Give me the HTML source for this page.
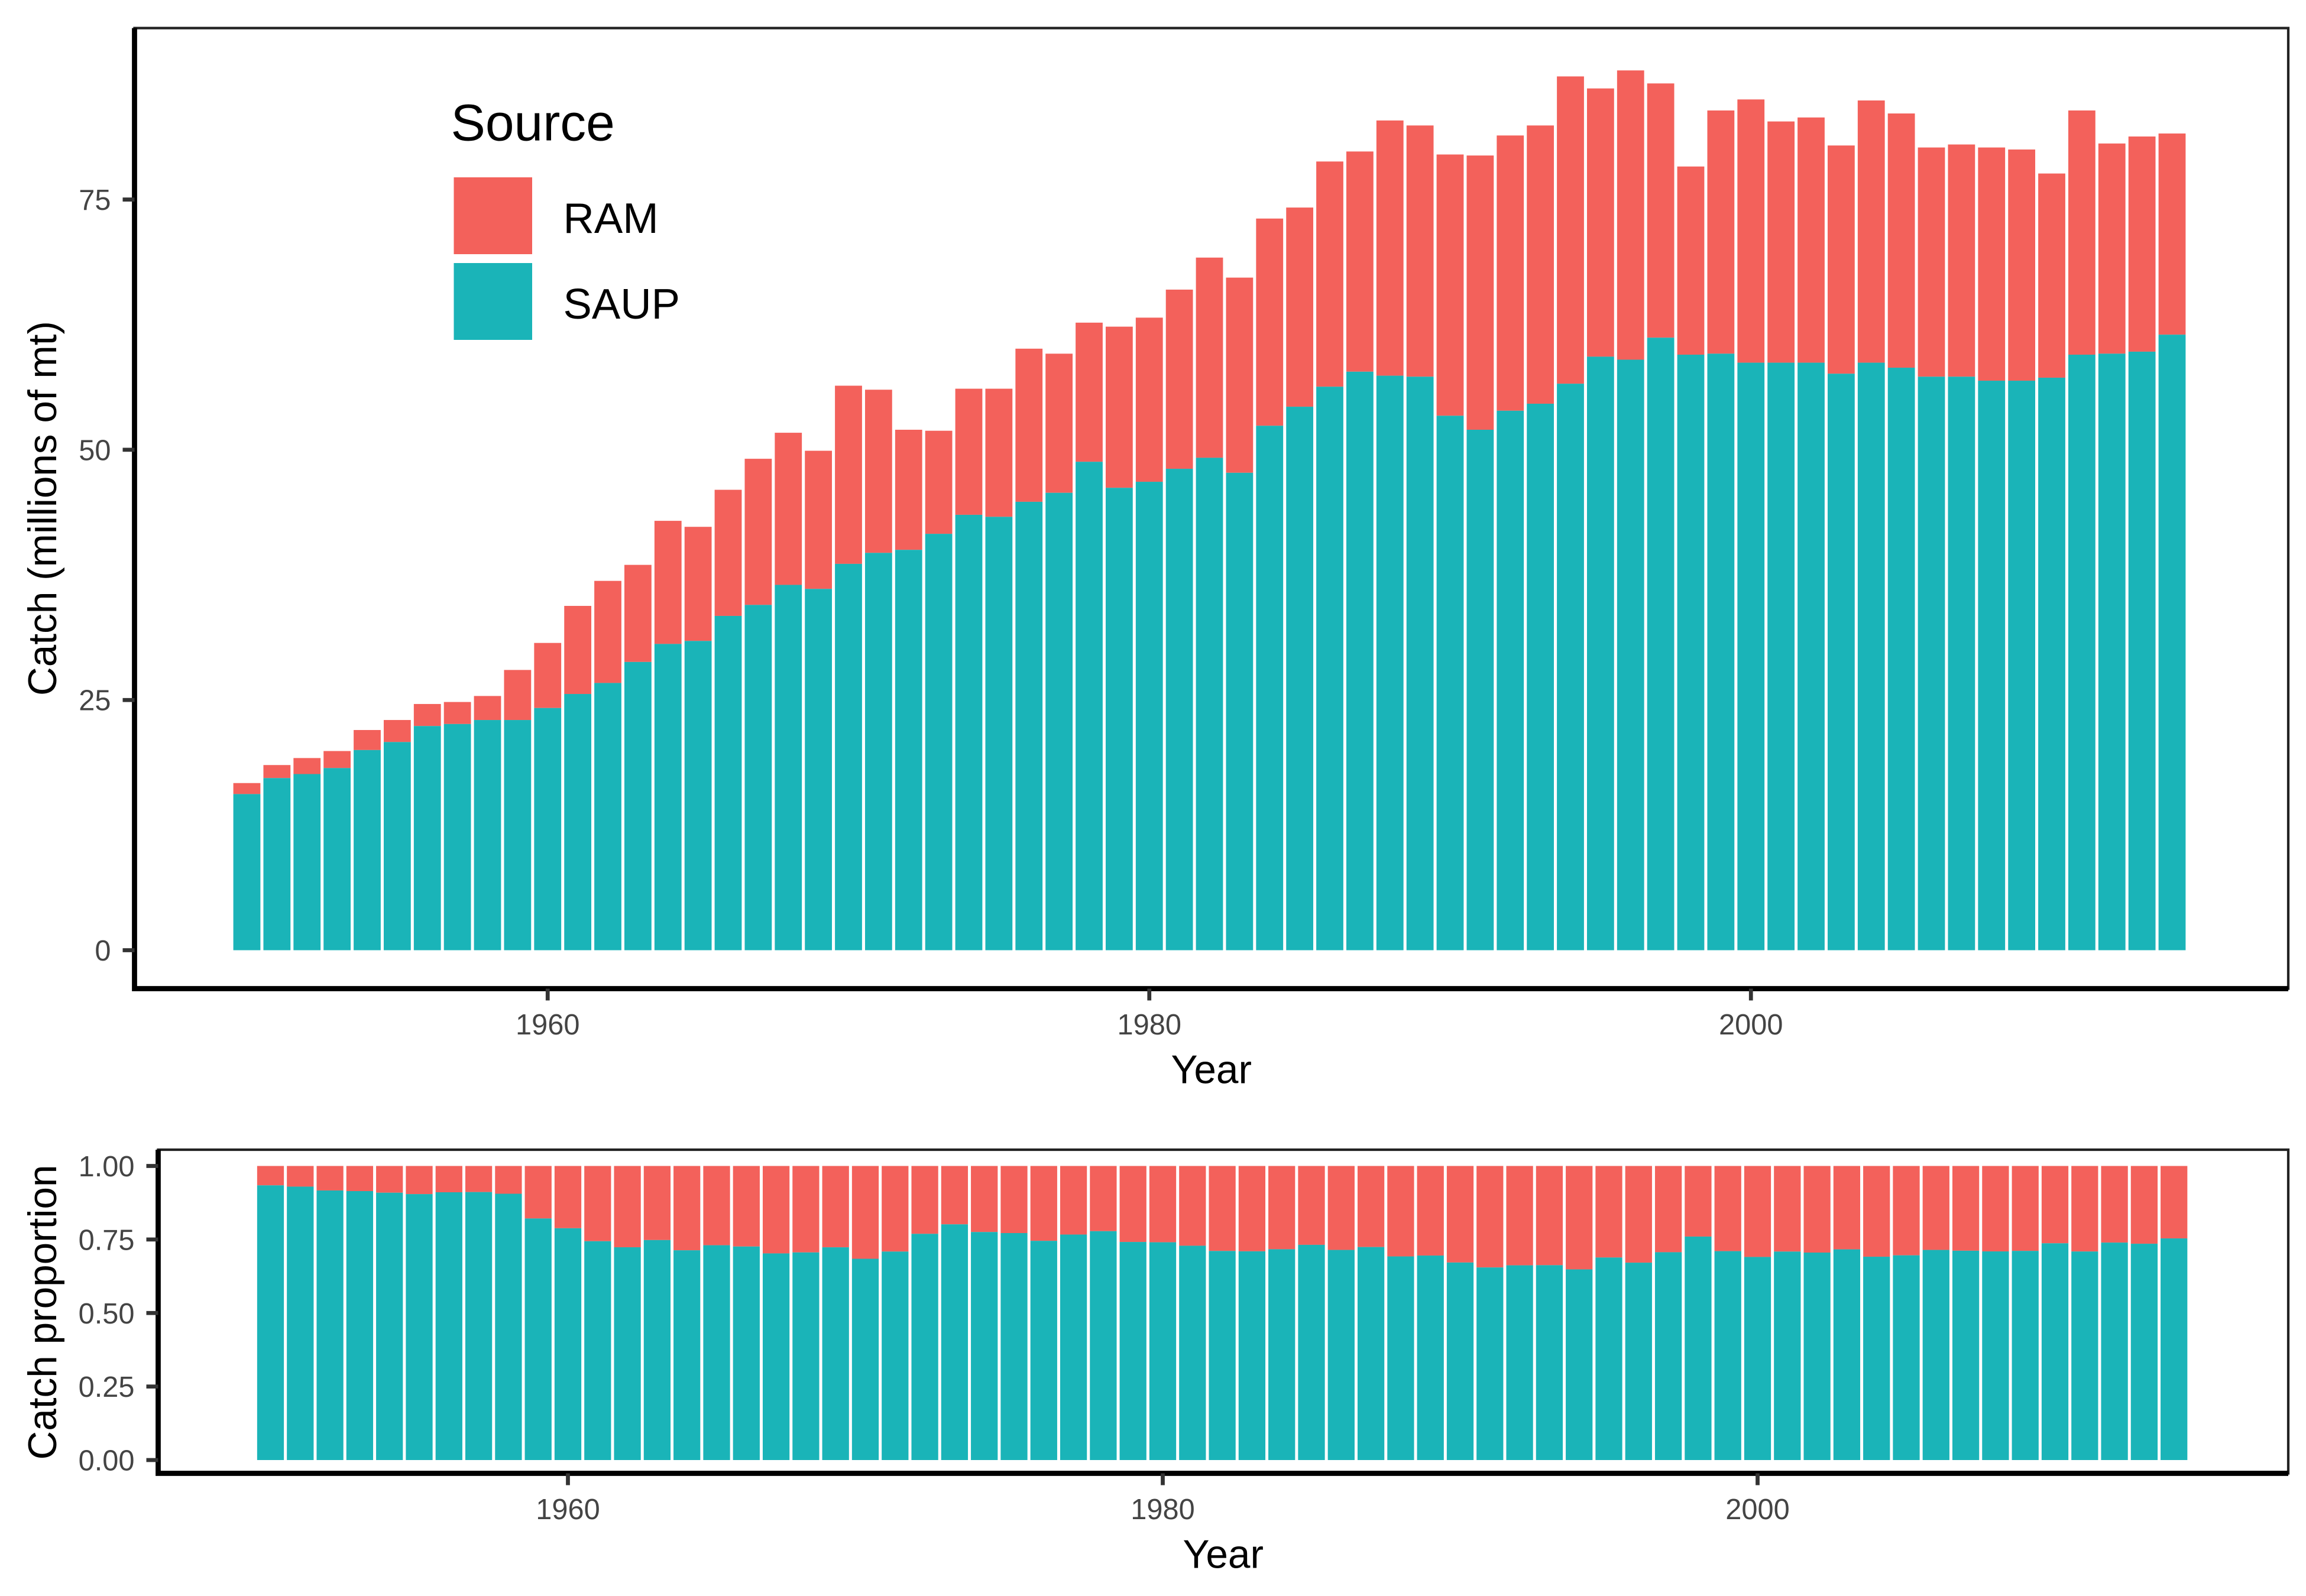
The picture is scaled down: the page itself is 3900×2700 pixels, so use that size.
<!DOCTYPE html>
<html><head><meta charset="utf-8"><style>
html,body{margin:0;padding:0;background:#fff}
svg{display:block;font-family:"Liberation Sans",Arial,sans-serif}
</style></head><body>
<svg id="chart" width="3900" height="2700" viewBox="0 0 1560 1080" xmlns="http://www.w3.org/2000/svg">
<g id="topg"></g>
<g id="botg"></g>
</svg>
<script>
const years = [];
for (let y = 1950; y <= 2014; y++) years.push(y);
const totalCatch = [16.7,18.5,19.2,19.9,22.0,23.0,24.6,24.8,25.4,28.0,30.7,34.4,36.9,38.5,42.9,42.3,46.0,49.1,51.7,49.9,56.4,56.0,52.0,51.9,56.1,56.1,60.1,59.6,62.7,62.3,63.2,66.0,69.2,67.2,73.1,74.2,78.8,79.8,82.9,82.4,79.5,79.4,81.4,82.4,87.3,86.1,87.9,86.6,78.3,83.9,85.0,82.8,83.2,80.4,84.9,83.6,80.2,80.5,80.2,80.0,77.6,83.9,80.6,81.3,81.6];
const saupCatch = [15.6,17.2,17.6,18.2,20.0,20.8,22.4,22.6,23.0,23.0,24.2,25.6,26.7,28.8,30.6,30.9,33.4,34.5,36.5,36.1,38.6,39.7,40.0,41.6,43.5,43.3,44.8,45.7,48.8,46.2,46.8,48.1,49.2,47.7,52.4,54.3,56.3,57.8,57.4,57.3,53.4,52.0,53.9,54.6,56.6,59.3,59.0,61.2,59.5,59.6,58.7,58.7,58.7,57.6,58.7,58.2,57.3,57.3,56.9,56.9,57.2,59.5,59.6,59.8,61.5];
const topYTicks = [0,25,50,75];
const botYTicks = [0,0.25,0.5,0.75,1.0];
const botYLabels = ["0.00","0.25","0.50","0.75","1.00"];
const xTicks = [1960,1980,2000];

const NS = "http://www.w3.org/2000/svg";
const RAM = "#F3615B", SAUP = "#1AB4B8";
function mk(parent, tag, attrs, text) {
  const e = document.createElementNS(NS, tag);
  for (const k in attrs) e.setAttribute(k, attrs[k]);
  if (text !== undefined) e.textContent = text;
  parent.appendChild(e);
  return e;
}
function panel(g, o) {
  const xs = y => o.x0 + (y - 1950) * o.dx;
  const ys = v => o.y0 - v * o.sy;
  const bw = o.dx * 0.9;
  const fr = mk(g, 'rect', {x:o.L, y:o.T, width:o.R-o.L, height:o.B-o.T, fill:'none', stroke:'#222', 'stroke-width':1.7});
  
  
  years.forEach((yr, i) => {
    const tot = o.total(i), s = o.saup(i);
    const r1 = mk(g, 'rect', {x:xs(yr)-bw/2, y:ys(tot), width:bw, height:ys(s)-ys(tot), fill:RAM});
    
    
    const r2 = mk(g, 'rect', {x:xs(yr)-bw/2, y:ys(s), width:bw, height:ys(0)-ys(s), fill:SAUP});
    
    
  });
  const ax = mk(g, 'path', {d:`M${o.L},${o.T} V${o.B} H${o.R}`, fill:'none', stroke:'#000', 'stroke-width':3.5});
  
  
  o.yt.forEach((v, i) => {
    mk(g, 'line', {x1:o.L-8, x2:o.L, y1:ys(v), y2:ys(v), stroke:'#333', 'stroke-width':2.7});
    const t = mk(g, 'text', {x:o.L-16, y:ys(v)+7, 'text-anchor':'end', 'font-size':19.5, fill:'#444'}, o.yl[i]);
    
    
  });
  xTicks.forEach(v => {
    mk(g, 'line', {x1:xs(v), x2:xs(v), y1:o.B, y2:o.B+8, stroke:'#333', 'stroke-width':2.7});
    const t = mk(g, 'text', {x:xs(v), y:o.B+31, 'text-anchor':'middle', 'font-size':19.5, fill:'#444'}, String(v));
    
    
  });
  const xt = mk(g, 'text', {x:(o.L+o.R)/2, y:o.B+64, 'text-anchor':'middle', 'font-size':27}, 'Year');
  
  
  const cy = o.ycenter;
  const yt = mk(g, 'text', {x:0, y:0, transform:`translate(38,${cy}) rotate(-90)`, 'text-anchor':'middle', 'font-size':27}, o.ytitle);
  
  
}
panel(document.getElementById('topg'), {
  p:'top', L:91, R:1548, T:19, B:669, x0:167, dx:20.35, y0:643, sy:6.773, ycenter:344,
  total:i=>totalCatch[i], saup:i=>saupCatch[i], yt:topYTicks, yl:topYTicks.map(String),
  ytitle:'Catch (millions of mt)'
});
panel(document.getElementById('botg'), {
  p:'bottom', L:107, R:1548, T:778, B:997, x0:183, dx:20.12, y0:988, sy:199, ycenter:888,
  total:i=>1, saup:i=>saupCatch[i]/totalCatch[i], yt:botYTicks, yl:botYLabels,
  ytitle:'Catch proportion'
});
const topPanel = document.getElementById('topg');
const lg = mk(topPanel, 'g', {});


const lt = mk(lg, 'text', {x:305, y:95, 'font-size':35}, 'Source');


[['RAM', RAM, 120], ['SAUP', SAUP, 178]].forEach(([n, c, y]) => {
  const k = mk(lg, 'rect', {x:307, y:y, width:53, height:52, fill:c});
  
  
  const t = mk(lg, 'text', {x:381, y:y+37.5, 'font-size':29}, n);
  
  
});
</script>
</body></html>
